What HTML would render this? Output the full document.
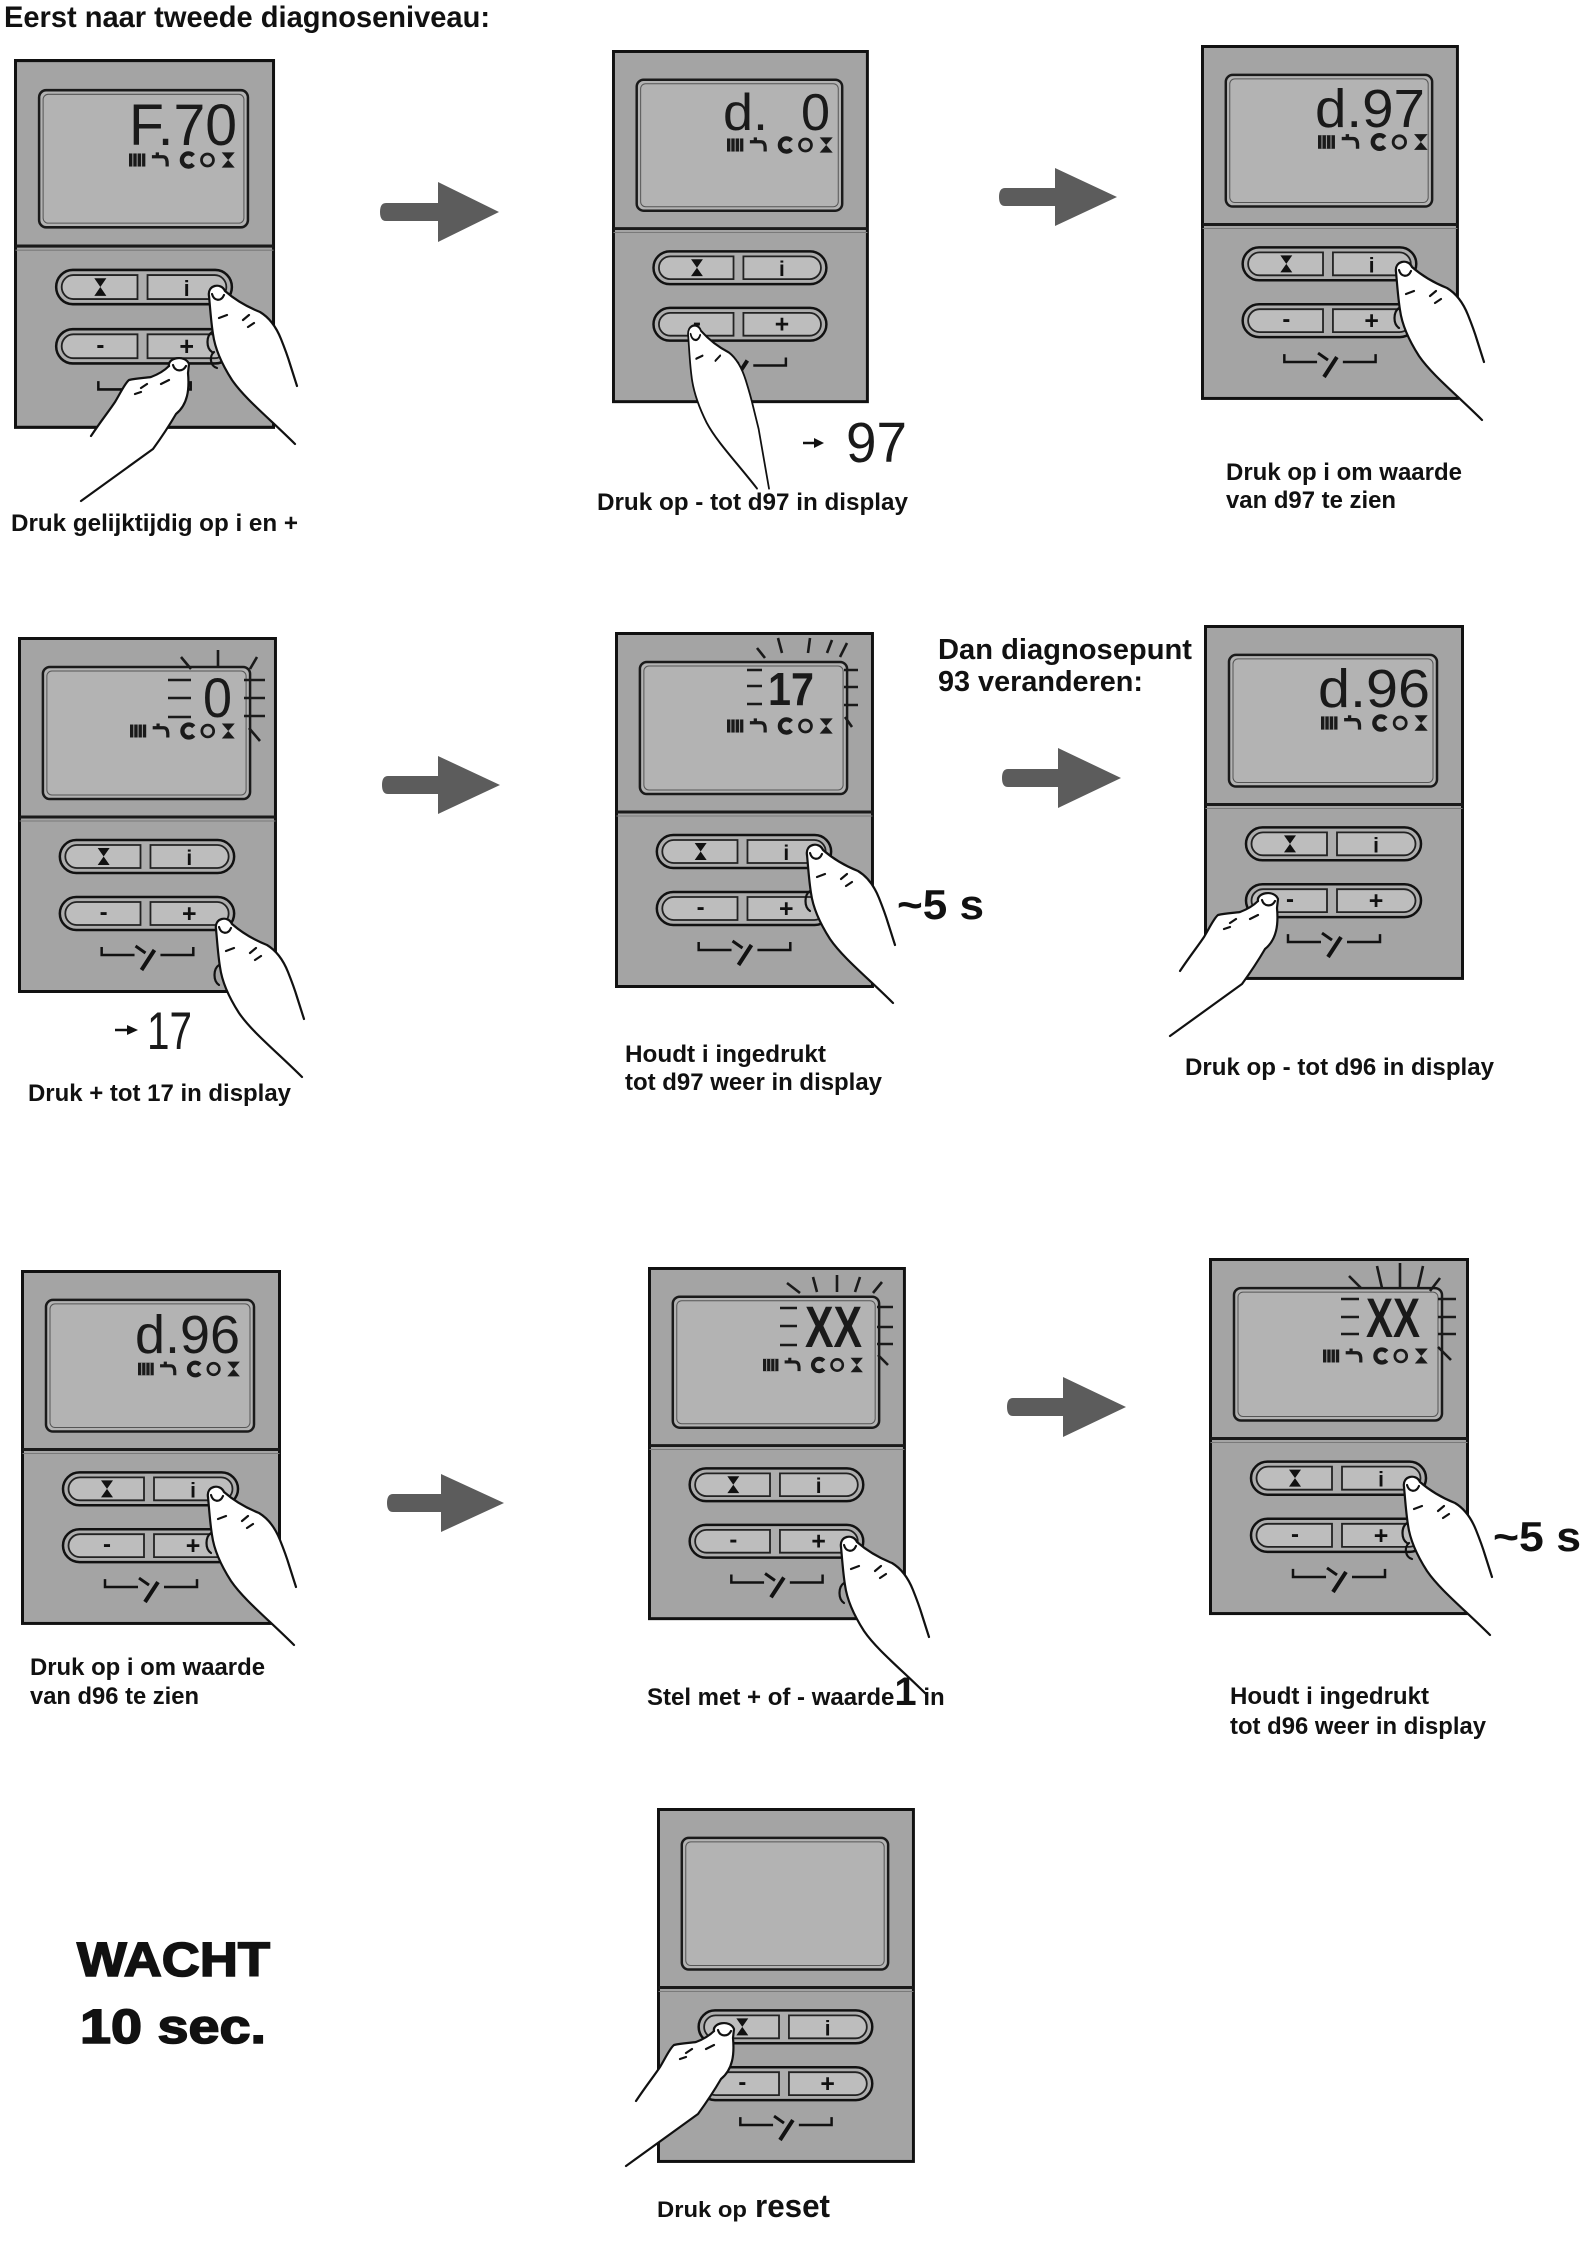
<!DOCTYPE html>
<html>
<head>
<meta charset="utf-8">
<style>
html,body{margin:0;padding:0;background:#fff;}
svg{display:block;}
.t{font-family:"Liberation Sans",Arial,sans-serif;font-weight:bold;fill:#111;}
.lcd{font-family:"Liberation Sans Narrow","Liberation Sans",sans-serif;fill:#1a1a1a;}
.lbl{font-family:"Liberation Sans",Arial,sans-serif;font-weight:bold;fill:#111;text-anchor:middle;}
</style>
</head>
<body>
<svg width="1590" height="2256" viewBox="0 0 1590 2256" xmlns="http://www.w3.org/2000/svg">
<rect width="1590" height="2256" fill="#fff"/>

<!-- ============ PANELS ============ -->
<!-- Panel template drawn 10 times -->
<g id="p1" transform="translate(14,59) scale(1.004,1.039)">
 <rect x="1.5" y="1.5" width="257" height="353" fill="#a4a4a4" stroke="#111" stroke-width="3"/>
 <rect x="25" y="30" width="208" height="132" rx="7" fill="#b3b3b3" stroke="#1a1a1a" stroke-width="2.5"/>
 <rect x="29" y="34" width="200" height="124" rx="5" fill="none" stroke="#555" stroke-width="1"/>
 <path d="M1.5,180 H258.5" stroke="#1a1a1a" stroke-width="3"/>
 <path d="M1.5,184 H258.5" stroke="#7a7a7a" stroke-width="1"/>
 <rect x="42" y="203" width="175" height="33" rx="16.5" fill="#adadad" stroke="#111" stroke-width="2.5"/>
 <path d="M123,208 H59 A11.5,11.5 0 0 0 59,231 H123 Z" fill="#bdbdbd" stroke="#222" stroke-width="1.8"/>
 <path d="M133,208 H200 A11.5,11.5 0 0 1 200,231 H133 Z" fill="#bdbdbd" stroke="#222" stroke-width="1.8"/>
 <rect x="42" y="260" width="175" height="33" rx="16.5" fill="#adadad" stroke="#111" stroke-width="2.5"/>
 <path d="M123,265 H59 A11.5,11.5 0 0 0 59,288 H123 Z" fill="#bdbdbd" stroke="#222" stroke-width="1.8"/>
 <path d="M133,265 H200 A11.5,11.5 0 0 1 200,288 H133 Z" fill="#bdbdbd" stroke="#222" stroke-width="1.8"/>
 <path d="M80,211 H92 L86,219.5 L92,228 H80 L86,219.5 Z" fill="#111"/>
 <text class="lbl" x="172" y="228" font-size="21">i</text>
 <text class="lbl" x="86" y="283" font-size="24">-</text>
 <text class="lbl" x="172" y="285" font-size="25">+</text>
 <path d="M84,310 V318 H117 M143,318 H176 V310" stroke="#111" stroke-width="2.5" fill="none"/>
 <path d="M118,309 L128,316" stroke="#111" stroke-width="3"/>
 <path d="M124,333 L137,313" stroke="#111" stroke-width="4"/>
</g>

<g transform="translate(612,50) scale(0.988,0.992)">
 <rect x="1.5" y="1.5" width="257" height="353" fill="#a4a4a4" stroke="#111" stroke-width="3"/>
 <rect x="25" y="30" width="208" height="132" rx="7" fill="#b3b3b3" stroke="#1a1a1a" stroke-width="2.5"/>
 <rect x="29" y="34" width="200" height="124" rx="5" fill="none" stroke="#555" stroke-width="1"/>
 <path d="M1.5,180 H258.5" stroke="#1a1a1a" stroke-width="3"/>
 <path d="M1.5,184 H258.5" stroke="#7a7a7a" stroke-width="1"/>
 <rect x="42" y="203" width="175" height="33" rx="16.5" fill="#adadad" stroke="#111" stroke-width="2.5"/>
 <path d="M123,208 H59 A11.5,11.5 0 0 0 59,231 H123 Z" fill="#bdbdbd" stroke="#222" stroke-width="1.8"/>
 <path d="M133,208 H200 A11.5,11.5 0 0 1 200,231 H133 Z" fill="#bdbdbd" stroke="#222" stroke-width="1.8"/>
 <rect x="42" y="260" width="175" height="33" rx="16.5" fill="#adadad" stroke="#111" stroke-width="2.5"/>
 <path d="M123,265 H59 A11.5,11.5 0 0 0 59,288 H123 Z" fill="#bdbdbd" stroke="#222" stroke-width="1.8"/>
 <path d="M133,265 H200 A11.5,11.5 0 0 1 200,288 H133 Z" fill="#bdbdbd" stroke="#222" stroke-width="1.8"/>
 <path d="M80,211 H92 L86,219.5 L92,228 H80 L86,219.5 Z" fill="#111"/>
 <text class="lbl" x="172" y="228" font-size="21">i</text>
 <text class="lbl" x="86" y="283" font-size="24">-</text>
 <text class="lbl" x="172" y="285" font-size="25">+</text>
 <path d="M84,310 V318 H117 M143,318 H176 V310" stroke="#111" stroke-width="2.5" fill="none"/>
 <path d="M118,309 L128,316" stroke="#111" stroke-width="3"/>
 <path d="M124,333 L137,313" stroke="#111" stroke-width="4"/>
</g>

<g transform="translate(1201,45) scale(0.992,0.997)">
 <rect x="1.5" y="1.5" width="257" height="353" fill="#a4a4a4" stroke="#111" stroke-width="3"/>
 <rect x="25" y="30" width="208" height="132" rx="7" fill="#b3b3b3" stroke="#1a1a1a" stroke-width="2.5"/>
 <rect x="29" y="34" width="200" height="124" rx="5" fill="none" stroke="#555" stroke-width="1"/>
 <path d="M1.5,180 H258.5" stroke="#1a1a1a" stroke-width="3"/>
 <path d="M1.5,184 H258.5" stroke="#7a7a7a" stroke-width="1"/>
 <rect x="42" y="203" width="175" height="33" rx="16.5" fill="#adadad" stroke="#111" stroke-width="2.5"/>
 <path d="M123,208 H59 A11.5,11.5 0 0 0 59,231 H123 Z" fill="#bdbdbd" stroke="#222" stroke-width="1.8"/>
 <path d="M133,208 H200 A11.5,11.5 0 0 1 200,231 H133 Z" fill="#bdbdbd" stroke="#222" stroke-width="1.8"/>
 <rect x="42" y="260" width="175" height="33" rx="16.5" fill="#adadad" stroke="#111" stroke-width="2.5"/>
 <path d="M123,265 H59 A11.5,11.5 0 0 0 59,288 H123 Z" fill="#bdbdbd" stroke="#222" stroke-width="1.8"/>
 <path d="M133,265 H200 A11.5,11.5 0 0 1 200,288 H133 Z" fill="#bdbdbd" stroke="#222" stroke-width="1.8"/>
 <path d="M80,211 H92 L86,219.5 L92,228 H80 L86,219.5 Z" fill="#111"/>
 <text class="lbl" x="172" y="228" font-size="21">i</text>
 <text class="lbl" x="86" y="283" font-size="24">-</text>
 <text class="lbl" x="172" y="285" font-size="25">+</text>
 <path d="M84,310 V318 H117 M143,318 H176 V310" stroke="#111" stroke-width="2.5" fill="none"/>
 <path d="M118,309 L128,316" stroke="#111" stroke-width="3"/>
 <path d="M124,333 L137,313" stroke="#111" stroke-width="4"/>
</g>

<g transform="translate(18,637) scale(0.996,1)">
 <rect x="1.5" y="1.5" width="257" height="353" fill="#a4a4a4" stroke="#111" stroke-width="3"/>
 <rect x="25" y="30" width="208" height="132" rx="7" fill="#b3b3b3" stroke="#1a1a1a" stroke-width="2.5"/>
 <rect x="29" y="34" width="200" height="124" rx="5" fill="none" stroke="#555" stroke-width="1"/>
 <path d="M1.5,180 H258.5" stroke="#1a1a1a" stroke-width="3"/>
 <path d="M1.5,184 H258.5" stroke="#7a7a7a" stroke-width="1"/>
 <rect x="42" y="203" width="175" height="33" rx="16.5" fill="#adadad" stroke="#111" stroke-width="2.5"/>
 <path d="M123,208 H59 A11.5,11.5 0 0 0 59,231 H123 Z" fill="#bdbdbd" stroke="#222" stroke-width="1.8"/>
 <path d="M133,208 H200 A11.5,11.5 0 0 1 200,231 H133 Z" fill="#bdbdbd" stroke="#222" stroke-width="1.8"/>
 <rect x="42" y="260" width="175" height="33" rx="16.5" fill="#adadad" stroke="#111" stroke-width="2.5"/>
 <path d="M123,265 H59 A11.5,11.5 0 0 0 59,288 H123 Z" fill="#bdbdbd" stroke="#222" stroke-width="1.8"/>
 <path d="M133,265 H200 A11.5,11.5 0 0 1 200,288 H133 Z" fill="#bdbdbd" stroke="#222" stroke-width="1.8"/>
 <path d="M80,211 H92 L86,219.5 L92,228 H80 L86,219.5 Z" fill="#111"/>
 <text class="lbl" x="172" y="228" font-size="21">i</text>
 <text class="lbl" x="86" y="283" font-size="24">-</text>
 <text class="lbl" x="172" y="285" font-size="25">+</text>
 <path d="M84,310 V318 H117 M143,318 H176 V310" stroke="#111" stroke-width="2.5" fill="none"/>
 <path d="M118,309 L128,316" stroke="#111" stroke-width="3"/>
 <path d="M124,333 L137,313" stroke="#111" stroke-width="4"/>
</g>

<g transform="translate(615,632) scale(0.996,1)">
 <rect x="1.5" y="1.5" width="257" height="353" fill="#a4a4a4" stroke="#111" stroke-width="3"/>
 <rect x="25" y="30" width="208" height="132" rx="7" fill="#b3b3b3" stroke="#1a1a1a" stroke-width="2.5"/>
 <rect x="29" y="34" width="200" height="124" rx="5" fill="none" stroke="#555" stroke-width="1"/>
 <path d="M1.5,180 H258.5" stroke="#1a1a1a" stroke-width="3"/>
 <path d="M1.5,184 H258.5" stroke="#7a7a7a" stroke-width="1"/>
 <rect x="42" y="203" width="175" height="33" rx="16.5" fill="#adadad" stroke="#111" stroke-width="2.5"/>
 <path d="M123,208 H59 A11.5,11.5 0 0 0 59,231 H123 Z" fill="#bdbdbd" stroke="#222" stroke-width="1.8"/>
 <path d="M133,208 H200 A11.5,11.5 0 0 1 200,231 H133 Z" fill="#bdbdbd" stroke="#222" stroke-width="1.8"/>
 <rect x="42" y="260" width="175" height="33" rx="16.5" fill="#adadad" stroke="#111" stroke-width="2.5"/>
 <path d="M123,265 H59 A11.5,11.5 0 0 0 59,288 H123 Z" fill="#bdbdbd" stroke="#222" stroke-width="1.8"/>
 <path d="M133,265 H200 A11.5,11.5 0 0 1 200,288 H133 Z" fill="#bdbdbd" stroke="#222" stroke-width="1.8"/>
 <path d="M80,211 H92 L86,219.5 L92,228 H80 L86,219.5 Z" fill="#111"/>
 <text class="lbl" x="172" y="228" font-size="21">i</text>
 <text class="lbl" x="86" y="283" font-size="24">-</text>
 <text class="lbl" x="172" y="285" font-size="25">+</text>
 <path d="M84,310 V318 H117 M143,318 H176 V310" stroke="#111" stroke-width="2.5" fill="none"/>
 <path d="M118,309 L128,316" stroke="#111" stroke-width="3"/>
 <path d="M124,333 L137,313" stroke="#111" stroke-width="4"/>
</g>

<g transform="translate(1204,625) scale(1,0.997)">
 <rect x="1.5" y="1.5" width="257" height="353" fill="#a4a4a4" stroke="#111" stroke-width="3"/>
 <rect x="25" y="30" width="208" height="132" rx="7" fill="#b3b3b3" stroke="#1a1a1a" stroke-width="2.5"/>
 <rect x="29" y="34" width="200" height="124" rx="5" fill="none" stroke="#555" stroke-width="1"/>
 <path d="M1.5,180 H258.5" stroke="#1a1a1a" stroke-width="3"/>
 <path d="M1.5,184 H258.5" stroke="#7a7a7a" stroke-width="1"/>
 <rect x="42" y="203" width="175" height="33" rx="16.5" fill="#adadad" stroke="#111" stroke-width="2.5"/>
 <path d="M123,208 H59 A11.5,11.5 0 0 0 59,231 H123 Z" fill="#bdbdbd" stroke="#222" stroke-width="1.8"/>
 <path d="M133,208 H200 A11.5,11.5 0 0 1 200,231 H133 Z" fill="#bdbdbd" stroke="#222" stroke-width="1.8"/>
 <rect x="42" y="260" width="175" height="33" rx="16.5" fill="#adadad" stroke="#111" stroke-width="2.5"/>
 <path d="M123,265 H59 A11.5,11.5 0 0 0 59,288 H123 Z" fill="#bdbdbd" stroke="#222" stroke-width="1.8"/>
 <path d="M133,265 H200 A11.5,11.5 0 0 1 200,288 H133 Z" fill="#bdbdbd" stroke="#222" stroke-width="1.8"/>
 <path d="M80,211 H92 L86,219.5 L92,228 H80 L86,219.5 Z" fill="#111"/>
 <text class="lbl" x="172" y="228" font-size="21">i</text>
 <text class="lbl" x="86" y="283" font-size="24">-</text>
 <text class="lbl" x="172" y="285" font-size="25">+</text>
 <path d="M84,310 V318 H117 M143,318 H176 V310" stroke="#111" stroke-width="2.5" fill="none"/>
 <path d="M118,309 L128,316" stroke="#111" stroke-width="3"/>
 <path d="M124,333 L137,313" stroke="#111" stroke-width="4"/>
</g>

<g transform="translate(21,1270) scale(1,0.997)">
 <rect x="1.5" y="1.5" width="257" height="353" fill="#a4a4a4" stroke="#111" stroke-width="3"/>
 <rect x="25" y="30" width="208" height="132" rx="7" fill="#b3b3b3" stroke="#1a1a1a" stroke-width="2.5"/>
 <rect x="29" y="34" width="200" height="124" rx="5" fill="none" stroke="#555" stroke-width="1"/>
 <path d="M1.5,180 H258.5" stroke="#1a1a1a" stroke-width="3"/>
 <path d="M1.5,184 H258.5" stroke="#7a7a7a" stroke-width="1"/>
 <rect x="42" y="203" width="175" height="33" rx="16.5" fill="#adadad" stroke="#111" stroke-width="2.5"/>
 <path d="M123,208 H59 A11.5,11.5 0 0 0 59,231 H123 Z" fill="#bdbdbd" stroke="#222" stroke-width="1.8"/>
 <path d="M133,208 H200 A11.5,11.5 0 0 1 200,231 H133 Z" fill="#bdbdbd" stroke="#222" stroke-width="1.8"/>
 <rect x="42" y="260" width="175" height="33" rx="16.5" fill="#adadad" stroke="#111" stroke-width="2.5"/>
 <path d="M123,265 H59 A11.5,11.5 0 0 0 59,288 H123 Z" fill="#bdbdbd" stroke="#222" stroke-width="1.8"/>
 <path d="M133,265 H200 A11.5,11.5 0 0 1 200,288 H133 Z" fill="#bdbdbd" stroke="#222" stroke-width="1.8"/>
 <path d="M80,211 H92 L86,219.5 L92,228 H80 L86,219.5 Z" fill="#111"/>
 <text class="lbl" x="172" y="228" font-size="21">i</text>
 <text class="lbl" x="86" y="283" font-size="24">-</text>
 <text class="lbl" x="172" y="285" font-size="25">+</text>
 <path d="M84,310 V318 H117 M143,318 H176 V310" stroke="#111" stroke-width="2.5" fill="none"/>
 <path d="M118,309 L128,316" stroke="#111" stroke-width="3"/>
 <path d="M124,333 L137,313" stroke="#111" stroke-width="4"/>
</g>

<g transform="translate(648,1267) scale(0.992,0.992)">
 <rect x="1.5" y="1.5" width="257" height="353" fill="#a4a4a4" stroke="#111" stroke-width="3"/>
 <rect x="25" y="30" width="208" height="132" rx="7" fill="#b3b3b3" stroke="#1a1a1a" stroke-width="2.5"/>
 <rect x="29" y="34" width="200" height="124" rx="5" fill="none" stroke="#555" stroke-width="1"/>
 <path d="M1.5,180 H258.5" stroke="#1a1a1a" stroke-width="3"/>
 <path d="M1.5,184 H258.5" stroke="#7a7a7a" stroke-width="1"/>
 <rect x="42" y="203" width="175" height="33" rx="16.5" fill="#adadad" stroke="#111" stroke-width="2.5"/>
 <path d="M123,208 H59 A11.5,11.5 0 0 0 59,231 H123 Z" fill="#bdbdbd" stroke="#222" stroke-width="1.8"/>
 <path d="M133,208 H200 A11.5,11.5 0 0 1 200,231 H133 Z" fill="#bdbdbd" stroke="#222" stroke-width="1.8"/>
 <rect x="42" y="260" width="175" height="33" rx="16.5" fill="#adadad" stroke="#111" stroke-width="2.5"/>
 <path d="M123,265 H59 A11.5,11.5 0 0 0 59,288 H123 Z" fill="#bdbdbd" stroke="#222" stroke-width="1.8"/>
 <path d="M133,265 H200 A11.5,11.5 0 0 1 200,288 H133 Z" fill="#bdbdbd" stroke="#222" stroke-width="1.8"/>
 <path d="M80,211 H92 L86,219.5 L92,228 H80 L86,219.5 Z" fill="#111"/>
 <text class="lbl" x="172" y="228" font-size="21">i</text>
 <text class="lbl" x="86" y="283" font-size="24">-</text>
 <text class="lbl" x="172" y="285" font-size="25">+</text>
 <path d="M84,310 V318 H117 M143,318 H176 V310" stroke="#111" stroke-width="2.5" fill="none"/>
 <path d="M118,309 L128,316" stroke="#111" stroke-width="3"/>
 <path d="M124,333 L137,313" stroke="#111" stroke-width="4"/>
</g>

<g transform="translate(1209,1258) scale(1,1.003)">
 <rect x="1.5" y="1.5" width="257" height="353" fill="#a4a4a4" stroke="#111" stroke-width="3"/>
 <rect x="25" y="30" width="208" height="132" rx="7" fill="#b3b3b3" stroke="#1a1a1a" stroke-width="2.5"/>
 <rect x="29" y="34" width="200" height="124" rx="5" fill="none" stroke="#555" stroke-width="1"/>
 <path d="M1.5,180 H258.5" stroke="#1a1a1a" stroke-width="3"/>
 <path d="M1.5,184 H258.5" stroke="#7a7a7a" stroke-width="1"/>
 <rect x="42" y="203" width="175" height="33" rx="16.5" fill="#adadad" stroke="#111" stroke-width="2.5"/>
 <path d="M123,208 H59 A11.5,11.5 0 0 0 59,231 H123 Z" fill="#bdbdbd" stroke="#222" stroke-width="1.8"/>
 <path d="M133,208 H200 A11.5,11.5 0 0 1 200,231 H133 Z" fill="#bdbdbd" stroke="#222" stroke-width="1.8"/>
 <rect x="42" y="260" width="175" height="33" rx="16.5" fill="#adadad" stroke="#111" stroke-width="2.5"/>
 <path d="M123,265 H59 A11.5,11.5 0 0 0 59,288 H123 Z" fill="#bdbdbd" stroke="#222" stroke-width="1.8"/>
 <path d="M133,265 H200 A11.5,11.5 0 0 1 200,288 H133 Z" fill="#bdbdbd" stroke="#222" stroke-width="1.8"/>
 <path d="M80,211 H92 L86,219.5 L92,228 H80 L86,219.5 Z" fill="#111"/>
 <text class="lbl" x="172" y="228" font-size="21">i</text>
 <text class="lbl" x="86" y="283" font-size="24">-</text>
 <text class="lbl" x="172" y="285" font-size="25">+</text>
 <path d="M84,310 V318 H117 M143,318 H176 V310" stroke="#111" stroke-width="2.5" fill="none"/>
 <path d="M118,309 L128,316" stroke="#111" stroke-width="3"/>
 <path d="M124,333 L137,313" stroke="#111" stroke-width="4"/>
</g>

<g transform="translate(657,1808) scale(0.992,0.997)">
 <rect x="1.5" y="1.5" width="257" height="353" fill="#a4a4a4" stroke="#111" stroke-width="3"/>
 <rect x="25" y="30" width="208" height="132" rx="7" fill="#b3b3b3" stroke="#1a1a1a" stroke-width="2.5"/>
 <rect x="29" y="34" width="200" height="124" rx="5" fill="none" stroke="#555" stroke-width="1"/>
 <path d="M1.5,180 H258.5" stroke="#1a1a1a" stroke-width="3"/>
 <path d="M1.5,184 H258.5" stroke="#7a7a7a" stroke-width="1"/>
 <rect x="42" y="203" width="175" height="33" rx="16.5" fill="#adadad" stroke="#111" stroke-width="2.5"/>
 <path d="M123,208 H59 A11.5,11.5 0 0 0 59,231 H123 Z" fill="#bdbdbd" stroke="#222" stroke-width="1.8"/>
 <path d="M133,208 H200 A11.5,11.5 0 0 1 200,231 H133 Z" fill="#bdbdbd" stroke="#222" stroke-width="1.8"/>
 <rect x="42" y="260" width="175" height="33" rx="16.5" fill="#adadad" stroke="#111" stroke-width="2.5"/>
 <path d="M123,265 H59 A11.5,11.5 0 0 0 59,288 H123 Z" fill="#bdbdbd" stroke="#222" stroke-width="1.8"/>
 <path d="M133,265 H200 A11.5,11.5 0 0 1 200,288 H133 Z" fill="#bdbdbd" stroke="#222" stroke-width="1.8"/>
 <path d="M80,211 H92 L86,219.5 L92,228 H80 L86,219.5 Z" fill="#111"/>
 <text class="lbl" x="172" y="228" font-size="21">i</text>
 <text class="lbl" x="86" y="283" font-size="24">-</text>
 <text class="lbl" x="172" y="285" font-size="25">+</text>
 <path d="M84,310 V318 H117 M143,318 H176 V310" stroke="#111" stroke-width="2.5" fill="none"/>
 <path d="M118,309 L128,316" stroke="#111" stroke-width="3"/>
 <path d="M124,333 L137,313" stroke="#111" stroke-width="4"/>
</g>

<!-- ============ LCD CONTENTS ============ -->
<text class="lcd" x="129" y="145" font-size="58" textLength="108" lengthAdjust="spacingAndGlyphs">F.70</text>
<text class="lcd" x="723" y="130" font-size="52" textLength="45" lengthAdjust="spacingAndGlyphs">d.</text>
<text class="lcd" x="801" y="130" font-size="52" textLength="29" lengthAdjust="spacingAndGlyphs">0</text>
<text class="lcd" x="1315" y="127" font-size="54" textLength="110" lengthAdjust="spacingAndGlyphs">d.97</text>
<text class="lcd" x="203" y="717" font-size="56" textLength="29" lengthAdjust="spacingAndGlyphs">0</text>
<text class="lcd" x="768" y="705" font-size="46" textLength="46" lengthAdjust="spacingAndGlyphs" font-weight="bold">17</text>
<text class="lcd" x="1318" y="707" font-size="54" textLength="112" lengthAdjust="spacingAndGlyphs">d.96</text>
<text class="lcd" x="135" y="1353" font-size="54" textLength="105" lengthAdjust="spacingAndGlyphs">d.96</text>
<text class="lcd" x="805" y="1347" font-size="58" font-weight="bold" textLength="57" lengthAdjust="spacingAndGlyphs">XX</text>
<text class="lcd" x="1366" y="1337" font-size="56" font-weight="bold" textLength="54" lengthAdjust="spacingAndGlyphs">XX</text>

<!-- icon rows -->
<g transform="translate(129,160) scale(1.09)">
 <rect x="0" y="-6" width="15" height="12" fill="#1a1a1a"/><path d="M3.5,-6 V6 M7.5,-6 V6 M11.5,-6 V6" stroke="#999" stroke-width="1"/>
 <path d="M21,-3 H31 Q35,-3 35,3 V6 M26,-7 V-3" stroke="#1a1a1a" stroke-width="3" fill="none"/>
 <path d="M59,-4 A6,6 0 1 0 59,4" stroke="#1a1a1a" stroke-width="4" fill="none"/>
 <circle cx="72" cy="0" r="5.5" stroke="#1a1a1a" stroke-width="2.5" fill="none"/>
 <path d="M85,-7 H97 L91,0 L97,7 H85 L91,0 Z" fill="#1a1a1a"/>
</g>
<g transform="translate(727,145) scale(1.09)">
 <rect x="0" y="-6" width="15" height="12" fill="#1a1a1a"/><path d="M3.5,-6 V6 M7.5,-6 V6 M11.5,-6 V6" stroke="#999" stroke-width="1"/>
 <path d="M21,-3 H31 Q35,-3 35,3 V6 M26,-7 V-3" stroke="#1a1a1a" stroke-width="3" fill="none"/>
 <path d="M59,-4 A6,6 0 1 0 59,4" stroke="#1a1a1a" stroke-width="4" fill="none"/>
 <circle cx="72" cy="0" r="5.5" stroke="#1a1a1a" stroke-width="2.5" fill="none"/>
 <path d="M85,-7 H97 L91,0 L97,7 H85 L91,0 Z" fill="#1a1a1a"/>
</g>
<g transform="translate(1318,142) scale(1.13)">
 <rect x="0" y="-6" width="15" height="12" fill="#1a1a1a"/><path d="M3.5,-6 V6 M7.5,-6 V6 M11.5,-6 V6" stroke="#999" stroke-width="1"/>
 <path d="M21,-3 H31 Q35,-3 35,3 V6 M26,-7 V-3" stroke="#1a1a1a" stroke-width="3" fill="none"/>
 <path d="M59,-4 A6,6 0 1 0 59,4" stroke="#1a1a1a" stroke-width="4" fill="none"/>
 <circle cx="72" cy="0" r="5.5" stroke="#1a1a1a" stroke-width="2.5" fill="none"/>
 <path d="M85,-7 H97 L91,0 L97,7 H85 L91,0 Z" fill="#1a1a1a"/>
</g>
<g transform="translate(130,731) scale(1.08)">
 <rect x="0" y="-6" width="15" height="12" fill="#1a1a1a"/><path d="M3.5,-6 V6 M7.5,-6 V6 M11.5,-6 V6" stroke="#999" stroke-width="1"/>
 <path d="M21,-3 H31 Q35,-3 35,3 V6 M26,-7 V-3" stroke="#1a1a1a" stroke-width="3" fill="none"/>
 <path d="M59,-4 A6,6 0 1 0 59,4" stroke="#1a1a1a" stroke-width="4" fill="none"/>
 <circle cx="72" cy="0" r="5.5" stroke="#1a1a1a" stroke-width="2.5" fill="none"/>
 <path d="M85,-7 H97 L91,0 L97,7 H85 L91,0 Z" fill="#1a1a1a"/>
</g>
<g transform="translate(727,726) scale(1.09)">
 <rect x="0" y="-6" width="15" height="12" fill="#1a1a1a"/><path d="M3.5,-6 V6 M7.5,-6 V6 M11.5,-6 V6" stroke="#999" stroke-width="1"/>
 <path d="M21,-3 H31 Q35,-3 35,3 V6 M26,-7 V-3" stroke="#1a1a1a" stroke-width="3" fill="none"/>
 <path d="M59,-4 A6,6 0 1 0 59,4" stroke="#1a1a1a" stroke-width="4" fill="none"/>
 <circle cx="72" cy="0" r="5.5" stroke="#1a1a1a" stroke-width="2.5" fill="none"/>
 <path d="M85,-7 H97 L91,0 L97,7 H85 L91,0 Z" fill="#1a1a1a"/>
</g>
<g transform="translate(1321,723) scale(1.1)">
 <rect x="0" y="-6" width="15" height="12" fill="#1a1a1a"/><path d="M3.5,-6 V6 M7.5,-6 V6 M11.5,-6 V6" stroke="#999" stroke-width="1"/>
 <path d="M21,-3 H31 Q35,-3 35,3 V6 M26,-7 V-3" stroke="#1a1a1a" stroke-width="3" fill="none"/>
 <path d="M59,-4 A6,6 0 1 0 59,4" stroke="#1a1a1a" stroke-width="4" fill="none"/>
 <circle cx="72" cy="0" r="5.5" stroke="#1a1a1a" stroke-width="2.5" fill="none"/>
 <path d="M85,-7 H97 L91,0 L97,7 H85 L91,0 Z" fill="#1a1a1a"/>
</g>
<g transform="translate(138,1369) scale(1.05)">
 <rect x="0" y="-6" width="15" height="12" fill="#1a1a1a"/><path d="M3.5,-6 V6 M7.5,-6 V6 M11.5,-6 V6" stroke="#999" stroke-width="1"/>
 <path d="M21,-3 H31 Q35,-3 35,3 V6 M26,-7 V-3" stroke="#1a1a1a" stroke-width="3" fill="none"/>
 <path d="M59,-4 A6,6 0 1 0 59,4" stroke="#1a1a1a" stroke-width="4" fill="none"/>
 <circle cx="72" cy="0" r="5.5" stroke="#1a1a1a" stroke-width="2.5" fill="none"/>
 <path d="M85,-7 H97 L91,0 L97,7 H85 L91,0 Z" fill="#1a1a1a"/>
</g>
<g transform="translate(763,1365) scale(1.03)">
 <rect x="0" y="-6" width="15" height="12" fill="#1a1a1a"/><path d="M3.5,-6 V6 M7.5,-6 V6 M11.5,-6 V6" stroke="#999" stroke-width="1"/>
 <path d="M21,-3 H31 Q35,-3 35,3 V6 M26,-7 V-3" stroke="#1a1a1a" stroke-width="3" fill="none"/>
 <path d="M59,-4 A6,6 0 1 0 59,4" stroke="#1a1a1a" stroke-width="4" fill="none"/>
 <circle cx="72" cy="0" r="5.5" stroke="#1a1a1a" stroke-width="2.5" fill="none"/>
 <path d="M85,-7 H97 L91,0 L97,7 H85 L91,0 Z" fill="#1a1a1a"/>
</g>
<g transform="translate(1323,1356) scale(1.08)">
 <rect x="0" y="-6" width="15" height="12" fill="#1a1a1a"/><path d="M3.5,-6 V6 M7.5,-6 V6 M11.5,-6 V6" stroke="#999" stroke-width="1"/>
 <path d="M21,-3 H31 Q35,-3 35,3 V6 M26,-7 V-3" stroke="#1a1a1a" stroke-width="3" fill="none"/>
 <path d="M59,-4 A6,6 0 1 0 59,4" stroke="#1a1a1a" stroke-width="4" fill="none"/>
 <circle cx="72" cy="0" r="5.5" stroke="#1a1a1a" stroke-width="2.5" fill="none"/>
 <path d="M85,-7 H97 L91,0 L97,7 H85 L91,0 Z" fill="#1a1a1a"/>
</g>

<!-- flashing dashes and rays -->
<g stroke="#1a1a1a" stroke-width="2.6" fill="none">
 <!-- P4 -->
 <path d="M168,680 H191 M168,698 H191 M168,717 H191"/>
 <path d="M244,680 H265 M244,698 H265 M244,716 H265"/>
 <path d="M181,657 L191,669 M218,650 V667 M257,657 L250,669 M249,728 L260,741"/>
 <!-- P5 -->
 <path d="M747,670 H762 M747,686 H762 M747,704 H762"/>
 <path d="M844,670 H858 M844,687 H858 M844,705 H858"/>
 <path d="M757,648 L765,658 M778,638 L782,653 M810,638 L808,653 M832,640 L827,653 M847,643 L840,657 M845,717 L852,727"/>
 <!-- P8 -->
 <path d="M780,1308 H797 M780,1326 H797 M780,1345 H797"/>
 <path d="M877,1307 H893 M877,1327 H893 M877,1344 H893"/>
 <path d="M787,1283 L800,1293 M813,1277 L817,1292 M837,1275 V1292 M860,1277 L855,1292 M882,1282 L873,1293 M878,1355 L888,1365"/>
 <!-- P9 -->
 <path d="M1341,1299 H1359 M1341,1317 H1359 M1341,1334 H1359"/>
 <path d="M1438,1299 H1456 M1438,1317 H1456 M1438,1334 H1456"/>
 <path d="M1349,1276 L1361,1288 M1377,1266 L1382,1288 M1400,1263 V1288 M1423,1266 L1418,1288 M1440,1278 L1430,1291 M1438,1347 L1451,1360"/>
</g>

<!-- ============ HANDS ============ -->
<!-- type A hands (finger from lower right) -->
<g transform="translate(215,294)">
 <path d="M-6,2 C-8,-9 6,-12 10,-3 C18,4 30,12 45,18 C55,24 62,35 66,45 C70,55 72,60 75,70 L82,92 L80,150 C55,125 30,105 17,86 C8,72 0,55 -2,40 C-4,28 -5,12 -6,2 Z" fill="#fff"/>
 <g fill="none" stroke="#111" stroke-width="2.2" stroke-linecap="round">
  <path d="M-6,2 C-8,-9 6,-12 10,-3 C18,4 30,12 45,18 C55,24 62,35 66,45 C70,55 72,60 75,70 L82,92"/>
  <path d="M-6,2 C-5,12 -4,28 -2,40 C0,55 8,72 17,86 C30,105 55,125 80,150"/>
  <path d="M-3,0 C-1,7 6,8 9,1 M4,24 L12,21 M28,26 L34,21 M33,33 L39,29"/>
  <path d="M-3,38 C-9,42 -9,54 -3,58 M-1,58 C-6,62 -5,72 2,74"/>
 </g>
</g>
<g transform="translate(693,334)">
 <path d="M-6,2 C-8,-9 6,-12 10,-3 C18,4 30,12 45,18 C55,24 62,35 66,45 C70,55 72,60 75,70 L82,92 L80,150 C55,125 30,105 17,86 C8,72 0,55 -2,40 C-4,28 -5,12 -6,2 Z" fill="#fff" transform="scale(0.8,1.03)"/>
 <g fill="none" stroke="#111" stroke-width="2.2" stroke-linecap="round" transform="scale(0.8,1.03)">
  <path d="M-6,2 C-8,-9 6,-12 10,-3 C18,4 30,12 45,18 C55,24 62,35 66,45 C70,55 72,60 75,70 L82,92 L95,150"/>
  <path d="M-6,2 C-5,12 -4,28 -2,40 C0,55 8,72 17,86 C30,105 55,125 80,150"/>
  <path d="M-3,0 C-1,7 6,8 9,1 M4,24 L12,21 M28,26 L34,21"/>
 </g>
</g>
<g transform="translate(1402,270)">
 <path d="M-6,2 C-8,-9 6,-12 10,-3 C18,4 30,12 45,18 C55,24 62,35 66,45 C70,55 72,60 75,70 L82,92 L80,150 C55,125 30,105 17,86 C8,72 0,55 -2,40 C-4,28 -5,12 -6,2 Z" fill="#fff"/>
 <g fill="none" stroke="#111" stroke-width="2.2" stroke-linecap="round">
  <path d="M-6,2 C-8,-9 6,-12 10,-3 C18,4 30,12 45,18 C55,24 62,35 66,45 C70,55 72,60 75,70 L82,92"/>
  <path d="M-6,2 C-5,12 -4,28 -2,40 C0,55 8,72 17,86 C30,105 55,125 80,150"/>
  <path d="M-3,0 C-1,7 6,8 9,1 M4,24 L12,21 M28,26 L34,21 M33,33 L39,29"/>
  <path d="M-3,38 C-9,42 -9,54 -3,58"/>
 </g>
</g>
<g transform="translate(222,927)">
 <path d="M-6,2 C-8,-9 6,-12 10,-3 C18,4 30,12 45,18 C55,24 62,35 66,45 C70,55 72,60 75,70 L82,92 L80,150 C55,125 30,105 17,86 C8,72 0,55 -2,40 C-4,28 -5,12 -6,2 Z" fill="#fff"/>
 <g fill="none" stroke="#111" stroke-width="2.2" stroke-linecap="round">
  <path d="M-6,2 C-8,-9 6,-12 10,-3 C18,4 30,12 45,18 C55,24 62,35 66,45 C70,55 72,60 75,70 L82,92"/>
  <path d="M-6,2 C-5,12 -4,28 -2,40 C0,55 8,72 17,86 C30,105 55,125 80,150"/>
  <path d="M-3,0 C-1,7 6,8 9,1 M4,24 L12,21 M28,26 L34,21 M33,33 L39,29"/>
  <path d="M-3,38 C-9,42 -9,54 -3,58"/>
 </g>
</g>
<g transform="translate(813,853)">
 <path d="M-6,2 C-8,-9 6,-12 10,-3 C18,4 30,12 45,18 C55,24 62,35 66,45 C70,55 72,60 75,70 L82,92 L80,150 C55,125 30,105 17,86 C8,72 0,55 -2,40 C-4,28 -5,12 -6,2 Z" fill="#fff"/>
 <g fill="none" stroke="#111" stroke-width="2.2" stroke-linecap="round">
  <path d="M-6,2 C-8,-9 6,-12 10,-3 C18,4 30,12 45,18 C55,24 62,35 66,45 C70,55 72,60 75,70 L82,92"/>
  <path d="M-6,2 C-5,12 -4,28 -2,40 C0,55 8,72 17,86 C30,105 55,125 80,150"/>
  <path d="M-3,0 C-1,7 6,8 9,1 M4,24 L12,21 M28,26 L34,21 M33,33 L39,29"/>
  <path d="M-3,38 C-9,42 -9,54 -3,58"/>
 </g>
</g>
<g transform="translate(214,1495)">
 <path d="M-6,2 C-8,-9 6,-12 10,-3 C18,4 30,12 45,18 C55,24 62,35 66,45 C70,55 72,60 75,70 L82,92 L80,150 C55,125 30,105 17,86 C8,72 0,55 -2,40 C-4,28 -5,12 -6,2 Z" fill="#fff"/>
 <g fill="none" stroke="#111" stroke-width="2.2" stroke-linecap="round">
  <path d="M-6,2 C-8,-9 6,-12 10,-3 C18,4 30,12 45,18 C55,24 62,35 66,45 C70,55 72,60 75,70 L82,92"/>
  <path d="M-6,2 C-5,12 -4,28 -2,40 C0,55 8,72 17,86 C30,105 55,125 80,150"/>
  <path d="M-3,0 C-1,7 6,8 9,1 M4,24 L12,21 M28,26 L34,21 M33,33 L39,29"/>
  <path d="M-3,38 C-9,42 -9,54 -3,58"/>
 </g>
</g>
<g transform="translate(847,1545)">
 <path d="M-6,2 C-8,-9 6,-12 10,-3 C18,4 30,12 45,18 C55,24 62,35 66,45 C70,55 72,60 75,70 L82,92 L80,150 C55,125 30,105 17,86 C8,72 0,55 -2,40 C-4,28 -5,12 -6,2 Z" fill="#fff"/>
 <g fill="none" stroke="#111" stroke-width="2.2" stroke-linecap="round">
  <path d="M-6,2 C-8,-9 6,-12 10,-3 C18,4 30,12 45,18 C55,24 62,35 66,45 C70,55 72,60 75,70 L82,92"/>
  <path d="M-6,2 C-5,12 -4,28 -2,40 C0,55 8,72 17,86 C30,105 55,125 80,150"/>
  <path d="M-3,0 C-1,7 6,8 9,1 M4,24 L12,21 M28,26 L34,21 M33,33 L39,29"/>
  <path d="M-3,38 C-9,42 -9,54 -3,58"/>
 </g>
</g>
<g transform="translate(1410,1485)">
 <path d="M-6,2 C-8,-9 6,-12 10,-3 C18,4 30,12 45,18 C55,24 62,35 66,45 C70,55 72,60 75,70 L82,92 L80,150 C55,125 30,105 17,86 C8,72 0,55 -2,40 C-4,28 -5,12 -6,2 Z" fill="#fff"/>
 <g fill="none" stroke="#111" stroke-width="2.2" stroke-linecap="round">
  <path d="M-6,2 C-8,-9 6,-12 10,-3 C18,4 30,12 45,18 C55,24 62,35 66,45 C70,55 72,60 75,70 L82,92"/>
  <path d="M-6,2 C-5,12 -4,28 -2,40 C0,55 8,72 17,86 C30,105 55,125 80,150"/>
  <path d="M-3,0 C-1,7 6,8 9,1 M4,24 L12,21 M28,26 L34,21 M33,33 L39,29"/>
  <path d="M-3,38 C-9,42 -9,54 -3,58 M-1,58 C-6,62 -5,72 2,74"/>
 </g>
</g>

<!-- type B hands (finger from lower left) -->
<g transform="translate(181,366)">
 <path d="M-12,0 C-14,-8 4,-12 8,-2 L7,7 C8,18 7,26 6,30 C4,38 0,44 -5,48 C-12,60 -20,72 -28,83 L-100,135 L-90,70 C-80,55 -72,45 -66,36 C-60,26 -56,17 -52,14 C-44,12 -36,12 -30,11 C-22,8 -16,4 -12,0 Z" fill="#fff"/>
 <g fill="none" stroke="#111" stroke-width="2.2" stroke-linecap="round">
  <path d="M-12,0 C-14,-8 4,-12 8,-2 L7,7 C8,18 7,26 6,30 C4,38 0,44 -5,48 C-12,60 -20,72 -28,83 L-100,135"/>
  <path d="M-12,0 C-16,4 -22,8 -30,11 C-36,12 -44,12 -52,14 C-56,17 -60,26 -66,36 C-72,45 -80,55 -90,70"/>
  <path d="M-8,-1 C-6,6 2,6 5,0 M-20,18 L-12,14 M-40,22 L-34,18 M-46,28 L-40,26"/>
 </g>
</g>
<g transform="translate(1270,901)">
 <path d="M-12,0 C-14,-8 4,-12 8,-2 L7,7 C8,18 7,26 6,30 C4,38 0,44 -5,48 C-12,60 -20,72 -28,83 L-100,135 L-90,70 C-80,55 -72,45 -66,36 C-60,26 -56,17 -52,14 C-44,12 -36,12 -30,11 C-22,8 -16,4 -12,0 Z" fill="#fff"/>
 <g fill="none" stroke="#111" stroke-width="2.2" stroke-linecap="round">
  <path d="M-12,0 C-14,-8 4,-12 8,-2 L7,7 C8,18 7,26 6,30 C4,38 0,44 -5,48 C-12,60 -20,72 -28,83 L-100,135"/>
  <path d="M-12,0 C-16,4 -22,8 -30,11 C-36,12 -44,12 -52,14 C-56,17 -60,26 -66,36 C-72,45 -80,55 -90,70"/>
  <path d="M-8,-1 C-6,6 2,6 5,0 M-20,18 L-12,14 M-40,22 L-34,18 M-46,28 L-40,26"/>
 </g>
</g>
<g transform="translate(726,2031)">
 <path d="M-12,0 C-14,-8 4,-12 8,-2 L7,7 C8,18 7,26 6,30 C4,38 0,44 -5,48 C-12,60 -20,72 -28,83 L-100,135 L-90,70 C-80,55 -72,45 -66,36 C-60,26 -56,17 -52,14 C-44,12 -36,12 -30,11 C-22,8 -16,4 -12,0 Z" fill="#fff"/>
 <g fill="none" stroke="#111" stroke-width="2.2" stroke-linecap="round">
  <path d="M-12,0 C-14,-8 4,-12 8,-2 L7,7 C8,18 7,26 6,30 C4,38 0,44 -5,48 C-12,60 -20,72 -28,83 L-100,135"/>
  <path d="M-12,0 C-16,4 -22,8 -30,11 C-36,12 -44,12 -52,14 C-56,17 -60,26 -66,36 C-72,45 -80,55 -90,70"/>
  <path d="M-8,-1 C-6,6 2,6 5,0 M-20,18 L-12,14 M-40,22 L-34,18 M-46,28 L-40,26"/>
 </g>
</g>

<!-- ============ ARROWS ============ -->
<g fill="#5c5c5c">
 <path d="M386,203 H438 V182 L499,212 L438,242 V221 H386 Q380,221 380,212 Q380,203 386,203 Z"/>
 <path d="M1005,188 H1055 V168 L1117,197 L1055,226 V206 H1005 Q999,206 999,197 Q999,188 1005,188 Z"/>
 <path d="M388,776 H438 V756 L500,785 L438,814 V794 H388 Q382,794 382,785 Q382,776 388,776 Z"/>
 <path d="M1008,769 H1058 V748 L1121,778 L1058,808 V787 H1008 Q1002,787 1002,778 Q1002,769 1008,769 Z"/>
 <path d="M393,1494 H441 V1474 L504,1503 L441,1532 V1512 H393 Q387,1512 387,1503 Q387,1494 393,1494 Z"/>
 <path d="M1013,1398 H1063 V1377 L1126,1407 L1063,1437 V1416 H1013 Q1007,1416 1007,1407 Q1007,1398 1013,1398 Z"/>
</g>

<!-- small arrows + numbers under panels -->
<path d="M803,443 H815" stroke="#111" stroke-width="2.5"/>
<path d="M814,438 L824,443 L814,448 Z" fill="#111"/>
<text class="lcd" x="846" y="462" font-size="57" textLength="61" lengthAdjust="spacingAndGlyphs">97</text>
<path d="M115,1030 H128" stroke="#111" stroke-width="2.5"/>
<path d="M127,1025 L138,1030 L127,1035 Z" fill="#111"/>
<text class="lcd" x="147" y="1049" font-size="53" textLength="45" lengthAdjust="spacingAndGlyphs">17</text>

<!-- ============ TEXT ============ -->
<text class="t" x="4" y="27" font-size="30" textLength="486" lengthAdjust="spacingAndGlyphs">Eerst naar tweede diagnoseniveau:</text>
<text class="t" x="11" y="531" font-size="24" textLength="287" lengthAdjust="spacingAndGlyphs">Druk gelijktijdig op i en +</text>
<text class="t" x="597" y="510" font-size="24" textLength="311" lengthAdjust="spacingAndGlyphs">Druk op - tot d97 in display</text>
<text class="t" x="1226" y="480" font-size="24" textLength="236" lengthAdjust="spacingAndGlyphs">Druk op i om waarde</text>
<text class="t" x="1226" y="508" font-size="24" textLength="170" lengthAdjust="spacingAndGlyphs">van d97 te zien</text>

<text class="t" x="28" y="1101" font-size="24" textLength="263" lengthAdjust="spacingAndGlyphs">Druk + tot 17 in display</text>
<text class="t" x="625" y="1062" font-size="24" textLength="201" lengthAdjust="spacingAndGlyphs">Houdt i ingedrukt</text>
<text class="t" x="625" y="1090" font-size="24" textLength="257" lengthAdjust="spacingAndGlyphs">tot d97 weer in display</text>
<text class="t" x="938" y="659" font-size="29" textLength="254" lengthAdjust="spacingAndGlyphs">Dan diagnosepunt</text>
<text class="t" x="938" y="691" font-size="29" textLength="205" lengthAdjust="spacingAndGlyphs">93 veranderen:</text>
<text class="t" x="897" y="919" font-size="42" textLength="87" lengthAdjust="spacingAndGlyphs">~5 s</text>
<text class="t" x="1185" y="1075" font-size="24" textLength="309" lengthAdjust="spacingAndGlyphs">Druk op - tot d96 in display</text>

<text class="t" x="30" y="1675" font-size="24" textLength="235" lengthAdjust="spacingAndGlyphs">Druk op i om waarde</text>
<text class="t" x="30" y="1704" font-size="24" textLength="169" lengthAdjust="spacingAndGlyphs">van d96 te zien</text>
<text class="t" x="647" y="1705" font-size="24">Stel met + of - waarde<tspan font-size="40">1</tspan> in</text>
<text class="t" x="1493" y="1551" font-size="42" textLength="88" lengthAdjust="spacingAndGlyphs">~5 s</text>
<text class="t" x="1230" y="1704" font-size="24" textLength="199" lengthAdjust="spacingAndGlyphs">Houdt i ingedrukt</text>
<text class="t" x="1230" y="1734" font-size="24" textLength="256" lengthAdjust="spacingAndGlyphs">tot  d96 weer in display</text>

<text class="t" x="77" y="1976" font-size="48" font-weight="900" stroke="#111" stroke-width="1.6" textLength="193" lengthAdjust="spacingAndGlyphs">WACHT</text>
<text class="t" x="80" y="2043" font-size="48" font-weight="900" stroke="#111" stroke-width="1.6" textLength="186" lengthAdjust="spacingAndGlyphs">10 sec.</text>

<text class="t" x="657" y="2217" font-size="22" textLength="90" lengthAdjust="spacingAndGlyphs">Druk op</text>
<text class="t" x="755" y="2217" font-size="32" textLength="75" lengthAdjust="spacingAndGlyphs">reset</text>
</svg>
</body>
</html>
